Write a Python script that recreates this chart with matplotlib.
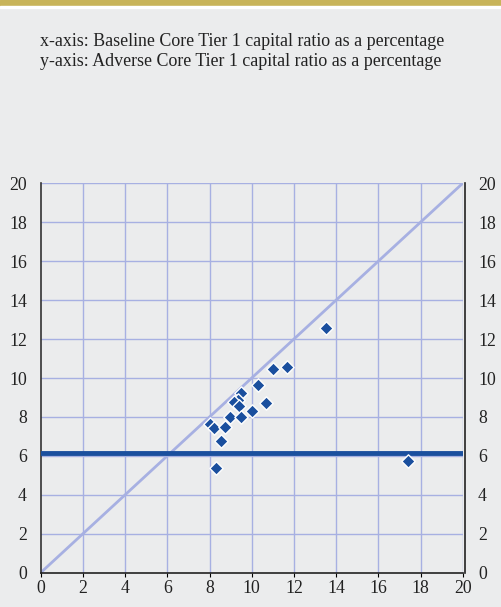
import matplotlib
matplotlib.use("Agg")
import matplotlib.pyplot as plt
from matplotlib.patches import Rectangle

baseline = [13.5, 11.0, 11.65, 10.3, 9.5, 9.35, 9.15, 9.4, 10.7, 10.0, 8.95, 9.5, 8.0, 8.2, 8.75, 8.55, 8.3, 17.4]
adverse = [12.55, 10.45, 10.55, 9.65, 9.25, 8.85, 8.75, 8.55, 8.7, 8.3, 8.0, 8.0, 7.65, 7.45, 7.5, 6.75, 5.4, 5.75]
hurdle = 6.15
ticks = [0, 2, 4, 6, 8, 10, 12, 14, 16, 18, 20]
title_lines = ["x-axis: Baseline Core Tier 1 capital ratio as a percentage",
               "y-axis: Adverse Core Tier 1 capital ratio as a percentage"]

bg = "#ebeced"
grid_c = "#a7b0e2"
dark = "#1a4f9e"

fig = plt.figure(figsize=(5.01, 6.07), dpi=100, facecolor=bg)
fig.patches.append(Rectangle((0, 1 - 6/607), 1, 6/607, transform=fig.transFigure, color="#c8b45a", zorder=0))
fig.patches.append(Rectangle((0, 1 - 8/607), 1, 2/607, transform=fig.transFigure, color="white", zorder=0))

fig.text(40/501, 1 - 42/607, title_lines[0], family="Liberation Serif", fontsize=12.9, va="center", color="#222222")
fig.text(40/501, 1 - 62/607, title_lines[1], family="Liberation Serif", fontsize=12.9, va="center", color="#222222")

ax = fig.add_axes([40.7/501, (607-572.7)/607, 422/501, 389.4/607])
ax.set_facecolor(bg)
ax.set_xlim(0, 20)
ax.set_ylim(0, 20)
ax.set_xticks(ticks)
ax.set_yticks(ticks)
for t in ticks[1:]:
    ax.axvline(t, color=grid_c, lw=1.0, zorder=1)
    ax.axhline(t, color=grid_c, lw=1.0, zorder=1)
ax.plot([0, 20], [0, 20], color=grid_c, lw=2.0, zorder=2)
ax.axhline(hurdle, color=dark, lw=3.5, zorder=3)
ax.scatter(baseline, adverse, marker="D", s=46, color=dark, edgecolor="white", linewidth=1.0, zorder=4)

for s in ["top", "right"]:
    ax.spines[s].set_visible(False)
ax.spines["left"].set_color("#333333")
ax.spines["bottom"].set_color("#222222")
ax.spines["left"].set_linewidth(1.2)
ax.spines["bottom"].set_linewidth(1.2)
ax.tick_params(axis="y", length=0, pad=10, labelsize=12.8)
ax.tick_params(axis="x", length=3, direction="out", pad=2, labelsize=12.8)
for lab in ax.get_xticklabels() + ax.get_yticklabels():
    lab.set_family("Liberation Serif")
    lab.set_color("#222222")

ax2 = ax.twinx()
ax2.set_ylim(0, 20)
ax2.set_yticks(ticks)
ax2.tick_params(axis="y", length=0, pad=9, labelsize=12.8)
for s in ["top", "left", "bottom"]:
    ax2.spines[s].set_visible(False)
ax2.spines["right"].set_position(("outward", 2))
ax2.spines["right"].set_color("#222222")
ax2.spines["right"].set_linewidth(1.2)
for lab in ax2.get_yticklabels():
    lab.set_family("Liberation Serif")
    lab.set_color("#222222")

fig.savefig("out.png", dpi=100, facecolor=bg)
